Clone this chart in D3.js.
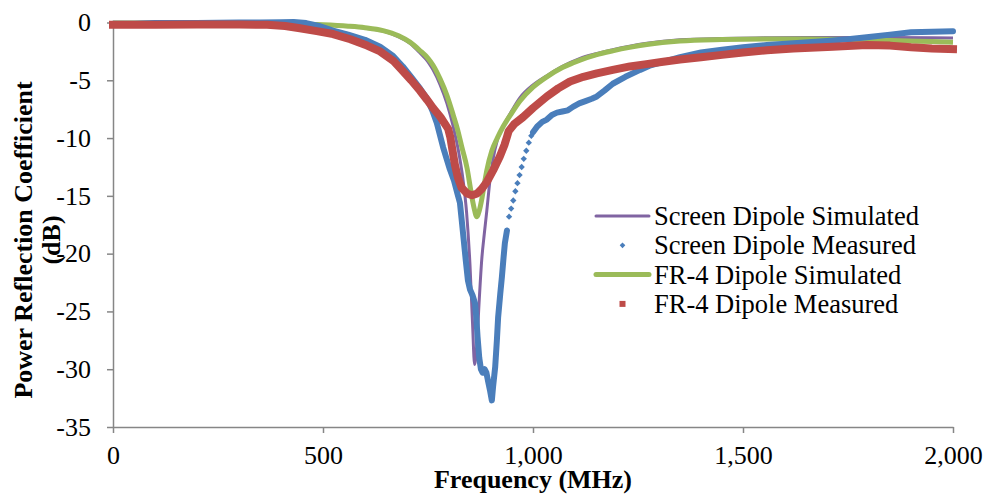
<!DOCTYPE html>
<html>
<head>
<meta charset="utf-8">
<script src="https://cdn.jsdelivr.net/npm/d3@7"></script>
<style>
  body { margin: 0; background: #fff; }
  svg { display: block; font-family: "Liberation Serif", "Times New Roman", serif; }
</style>
</head>
<body>
<svg id="chart" width="985" height="494"></svg>
<script>
// Axis ticks
const xTicks = [0, 500, 1000, 1500, 2000];
const yTicks = [0, -5, -10, -15, -20, -25, -30, -35];

const seriesNames = [
  "Screen Dipole Simulated",
  "Screen Dipole Measured",
  "FR-4 Dipole Simulated",
  "FR-4 Dipole Measured"
];

// [frequency MHz, power reflection coefficient dB]
const screenSimulated = [
  [0,-0.05],[100,-0.05],[200,-0.06],[300,-0.08],[400,-0.12],[500,-0.22],[560,-0.35],[600,-0.5],
  [643,-0.75],[680,-1.25],[707,-1.8],[730,-2.6],[750,-3.4],[762,-4.1],[779,-5.4],[795,-7.0],
  [810,-9.0],[822,-11.0],[833,-13.5],[842,-16.5],[850,-21],[856,-26],[861,-29.6],[866,-28],
  [872,-24],[878,-20.5],[884,-18.3],[890,-16.3],[898,-13.5],[905,-11.8],[915,-10.2],[929,-9.0],
  [950,-7.6],[969,-6.5],[1000,-5.4],[1033,-4.6],[1070,-3.8],[1112,-3.1],[1150,-2.7],[1190,-2.35],
  [1230,-2.05],[1271,-1.8],[1350,-1.5],[1450,-1.38],[1550,-1.33],[1650,-1.3],[1750,-1.3],
  [1850,-1.3],[1950,-1.32],[2000,-1.35]
];

// Measured screen dipole sweep: dense trace below the resonance,
// the sparsely sampled rising edge, and the dense trace above it
const screenMeasuredLower = [
  [0,-0.1],[50,-0.1],[100,-0.05],[150,-0.05],[200,-0.05],[250,-0.03],[300,0],[350,0],[400,0.02],
  [430,0.05],[460,-0.05],[490,-0.3],[524,-0.7],[560,-1.05],[600,-1.5],[636,-2.1],[667,-2.9],
  [690,-3.8],[714,-4.9],[731,-5.7],[748,-6.6],[760,-7.6],[771,-8.7],[786,-10.8],[802,-12.7],
  [812,-13.7],[820,-14.8],[826,-15.6],[830,-17.0],[835,-18.8],[840,-20.6],[845,-22.3],[850,-23.1],
  [856,-23.6],[862,-24.3],[865,-25.5],[868,-27.2],[872,-29.0],[876,-30.0],[880,-30.3],[885,-30.0],
  [889,-30.3],[894,-31.2],[898,-31.9],[902,-32.7],[905,-31.5],[910,-29.8],[914,-27.5],[917,-25.5],
  [922,-23.5],[926,-22.0],[930,-20.3],[933,-19.1],[938,-18.0]
];
const screenMeasuredRise = [
  [943,-16.8],[948,-16.1],[953,-15.4],[958,-14.6],[963,-13.9],[968,-13.2],[973,-12.5],
  [978,-11.8],[984,-11.1],[990,-10.4],[996,-9.8]
];
const screenMeasuredUpper = [
  [1000,-9.5],[1010,-9.0],[1022,-8.6],[1033,-8.4],[1045,-8.0],[1057,-7.8],[1070,-7.7],[1083,-7.6],
  [1095,-7.3],[1110,-7.0],[1125,-6.8],[1140,-6.6],[1152,-6.4],[1170,-5.9],[1190,-5.3],[1220,-4.7],
  [1255,-4.1],[1280,-3.7],[1310,-3.4],[1350,-3.0],[1400,-2.6],[1450,-2.35],[1500,-2.15],
  [1557,-1.95],[1620,-1.8],[1700,-1.6],[1750,-1.45],[1800,-1.25],[1850,-1.05],[1900,-0.85],
  [1950,-0.8],[2000,-0.75]
];

const fr4Simulated = [
  [0,-0.05],[100,-0.05],[200,-0.06],[300,-0.08],[400,-0.12],[500,-0.2],[560,-0.32],[600,-0.45],
  [643,-0.7],[680,-1.15],[707,-1.7],[730,-2.4],[750,-3.1],[762,-3.7],[779,-4.9],[795,-6.3],
  [810,-8.0],[820,-9.2],[830,-10.7],[843,-12.6],[854,-15.0],[860,-16.1],[866,-16.8],[872,-16.3],
  [878,-15.3],[884,-14.0],[890,-12.8],[902,-11.1],[915,-10.0],[929,-9.0],[950,-7.8],[969,-6.8],
  [1000,-5.6],[1033,-4.7],[1070,-3.9],[1112,-3.25],[1150,-2.8],[1190,-2.45],[1230,-2.15],
  [1271,-1.9],[1350,-1.6],[1450,-1.47],[1550,-1.42],[1650,-1.42],[1750,-1.47],[1850,-1.55],
  [1950,-1.65],[2000,-1.7]
];

const fr4Measured = [
  [0,-0.2],[100,-0.2],[200,-0.18],[300,-0.18],[367,-0.2],[410,-0.3],[445,-0.5],[485,-0.75],
  [524,-1.0],[565,-1.45],[605,-2.0],[636,-2.5],[667,-3.3],[690,-4.2],[710,-5.0],[731,-5.9],
  [748,-6.7],[762,-7.4],[780,-8.2],[798,-9.2],[803,-9.9],[808,-11.0],[814,-12.3],[821,-13.4],
  [830,-14.3],[843,-14.8],[855,-14.95],[867,-14.8],[878,-14.4],[890,-13.8],[905,-12.8],
  [921,-11.6],[932,-10.6],[938,-9.9],[942,-9.4],[955,-8.8],[976,-8.2],[1000,-7.4],[1033,-6.4],
  [1060,-5.7],[1088,-5.1],[1120,-4.7],[1152,-4.4],[1190,-4.1],[1231,-3.8],[1270,-3.6],
  [1310,-3.4],[1350,-3.2],[1400,-3.0],[1450,-2.8],[1500,-2.6],[1557,-2.4],[1620,-2.25],
  [1714,-2.1],[1795,-1.95],[1850,-2.0],[1900,-2.15],[1950,-2.25],[2000,-2.3]
];

const colors = {
  screenSim: "#8064A2",
  screenMeas: "#4A7EBB",
  fr4Sim: "#9BBB59",
  fr4Meas: "#BE4B48"
};

const svg = d3.select("#chart");
const plot = { left: 113, right: 953, top: 22.5, bottom: 427 };

const x = d3.scaleLinear().domain([0, 2000]).range([plot.left, plot.right]);
const y = d3.scaleLinear().domain([-35, 0]).range([plot.bottom, plot.top]);

const line = d3.line()
  .x(d => x(d[0]))
  .y(d => y(d[1]))
  .curve(d3.curveMonotoneX);

// Axes
const axisColor = "#868686";
const yAxis = svg.append("g")
  .attr("transform", `translate(${plot.left},0)`)
  .call(d3.axisLeft(y).tickValues(yTicks).tickFormat(d => String(d))
    .tickSize(6).tickSizeOuter(0).tickPadding(16));
const xAxis = svg.append("g")
  .attr("transform", `translate(0,${plot.bottom})`)
  .call(d3.axisBottom(x).tickValues(xTicks).tickFormat(d3.format(","))
    .tickSize(6).tickSizeOuter(0).tickPadding(13));
[yAxis, xAxis].forEach(g => {
  g.select(".domain").attr("stroke", axisColor).attr("stroke-width", 1.5);
  g.selectAll(".tick line").attr("stroke", axisColor).attr("stroke-width", 1.5);
  g.selectAll(".tick text")
    .attr("fill", "#000")
    .style("font-family", '"Liberation Serif", "Times New Roman", serif')
    .style("font-size", "26px");
});

// Series
const series = svg.append("g");

series.append("path")
  .datum(screenSimulated)
  .attr("d", line)
  .attr("fill", "none")
  .attr("stroke", colors.screenSim)
  .attr("stroke-width", 3)
  .attr("stroke-linejoin", "round");

series.append("path")
  .datum(fr4Simulated)
  .attr("d", line)
  .attr("fill", "none")
  .attr("stroke", colors.fr4Sim)
  .attr("stroke-width", 5)
  .attr("stroke-linejoin", "round");

const measuredTrace = d3.line()
  .x(d => x(d[0]))
  .y(d => y(d[1]));

[screenMeasuredLower, screenMeasuredUpper].forEach(seg => {
  series.append("path")
    .datum(seg)
    .attr("d", measuredTrace)
    .attr("fill", "none")
    .attr("stroke", colors.screenMeas)
    .attr("stroke-width", 6)
    .attr("stroke-linejoin", "round")
    .attr("stroke-linecap", "round");
});

const diamond = d3.symbol().type(d3.symbolSquare).size(20);
series.selectAll(".rise")
  .data(screenMeasuredRise)
  .join("path")
  .attr("class", "rise")
  .attr("d", diamond)
  .attr("transform", d => `translate(${x(d[0])},${y(d[1])}) rotate(45)`)
  .attr("fill", colors.screenMeas);

series.append("path")
  .datum(fr4Measured)
  .attr("d", measuredTrace)
  .attr("fill", "none")
  .attr("stroke", colors.fr4Meas)
  .attr("stroke-width", 8)
  .attr("stroke-linejoin", "round")
  .attr("stroke-linecap", "square");

// Axis titles
svg.append("text")
  .attr("x", (plot.left + plot.right) / 2)
  .attr("y", 488)
  .attr("text-anchor", "middle")
  .style("font-size", "26px")
  .style("font-weight", "bold")
  .text("Frequency (MHz)");

const yTitle = svg.append("text")
  .attr("transform", "translate(0,240) rotate(-90)")
  .attr("text-anchor", "middle")
  .style("font-size", "26px")
  .style("font-weight", "bold");
yTitle.append("tspan").attr("x", 0).attr("y", 32).text("Power Reflection Coefficient");
yTitle.append("tspan").attr("x", 0).attr("y", 60).text("(dB)");

// Legend
const legend = svg.append("g").attr("transform", "translate(596,216)");
const rowH = 29.3;
const legendItems = [
  { name: seriesNames[0], kind: "line", color: colors.screenSim, width: 3 },
  { name: seriesNames[1], kind: "diamond", color: colors.screenMeas },
  { name: seriesNames[2], kind: "line", color: colors.fr4Sim, width: 5 },
  { name: seriesNames[3], kind: "square", color: colors.fr4Meas }
];
legendItems.forEach((item, i) => {
  const g = legend.append("g").attr("transform", `translate(0,${i * rowH})`);
  if (item.kind === "line") {
    g.append("line")
      .attr("x1", 0).attr("x2", 53).attr("y1", 0).attr("y2", 0)
      .attr("stroke", item.color).attr("stroke-width", item.width)
      .attr("stroke-linecap", "round");
  } else if (item.kind === "diamond") {
    g.append("path")
      .attr("d", d3.symbol().type(d3.symbolSquare).size(16)())
      .attr("transform", "translate(26.5,0) rotate(45)")
      .attr("fill", item.color);
  } else {
    g.append("path")
      .attr("d", d3.symbol().type(d3.symbolSquare).size(36)())
      .attr("transform", "translate(26.5,0)")
      .attr("fill", item.color);
  }
  g.append("text")
    .attr("x", 58)
    .attr("y", 9)
    .style("font-size", "26.5px")
    .attr("fill", "#000")
    .text(item.name);
});
</script>
</body>
</html>
